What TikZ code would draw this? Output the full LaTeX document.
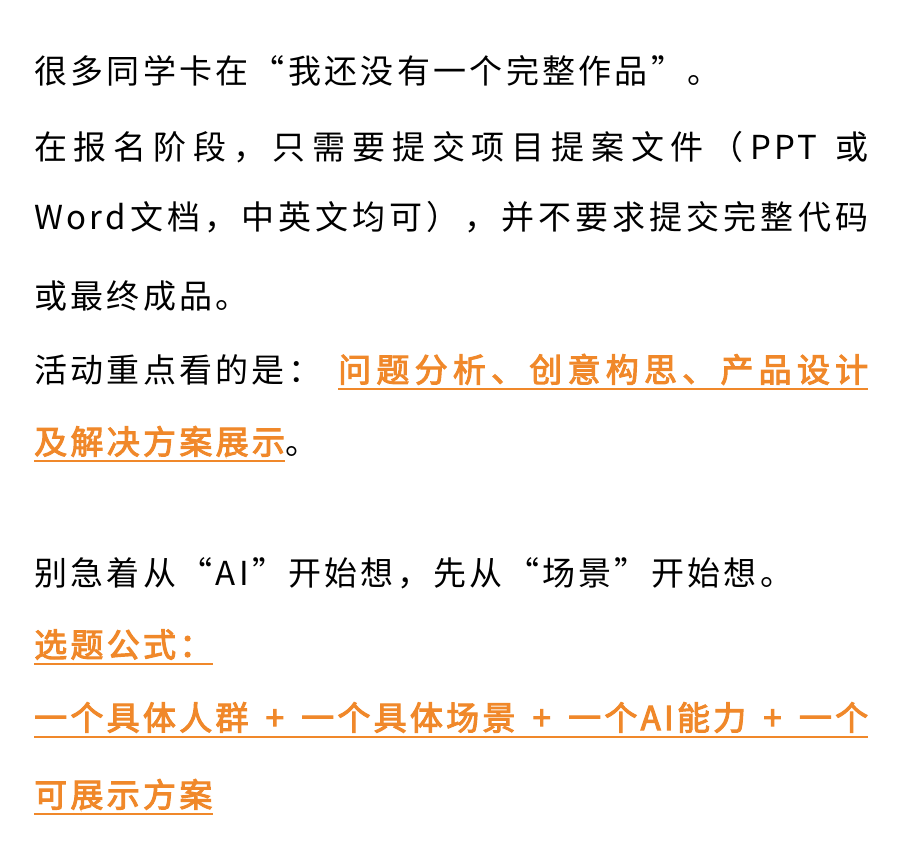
\documentclass[tikz,border=0pt]{standalone}
\usepackage{fontspec}
\setmainfont{Noto Sans CJK SC}[AutoFakeBold=3,LetterSpace=10]
\definecolor{og}{HTML}{F0882A}
\ExplSyntaxOn
\NewDocumentCommand\spr{m}{\tl_map_inline:nn{#1}{##1\hfil}\unskip}
\ExplSyntaxOff
\begin{document}
\begin{tikzpicture}[x=1pt,y=-1pt,
 t/.style={anchor=base west,inner sep=0pt,font=\fontsize{33}{38}\selectfont},
 o/.style={t,text=og,font=\fontsize{33}{38}\selectfont\bfseries},
 ul/.style={og,line width=2.2pt}]
\useasboundingbox[fill=white] (0,0) rectangle (900,842);
\node[t] (l1) at (34,84) {很多同学卡在“我还没有一个完整作品”。};
\node[t] (l2) at (34,160) {\makebox[834pt][s]{\spr{在报名阶段，只需要提交项目提案文件（{PPT\ }或}}};
\node[t] (l3) at (34,230) {\makebox[834pt][s]{\spr{{Word}文档，中英文均可），并不要求提交完整代码}}};
\node[t] (l4) at (34,309) {或最终成品。};
\node[t] (l5a) at (34,382) {活动重点看的是：};
\node[o] (l5b) at (338,382) {\makebox[530pt][s]{\spr{问题分析、创意构思、产品设计}}};
\node[o] (l6a) at (34,454) {及解决方案展示};
\node[t,anchor=base west] (l6b) at (l6a.base east) {。};
\node[t] (l7) at (34,585) {别急着从“AI”开始想，先从“场景”开始想。};
\node[o] (l8) at (34,657) {选题公式：};
\node[o] (l9) at (34,730) {\makebox[834pt][s]{\spr{一个具体人群{\ }+{\ }一个具体场景{\ }+{\ }一个{AI}能力{\ }+{\ }一个}}};
\node[o] (l10) at (34,807) {可展示方案};
\foreach \n in {l5b,l6a,l8,l9,l10}{
 \draw[ul] ([yshift=-7pt]\n.base west) -- ([yshift=-7pt]\n.base east);}
\end{tikzpicture}
\end{document}
